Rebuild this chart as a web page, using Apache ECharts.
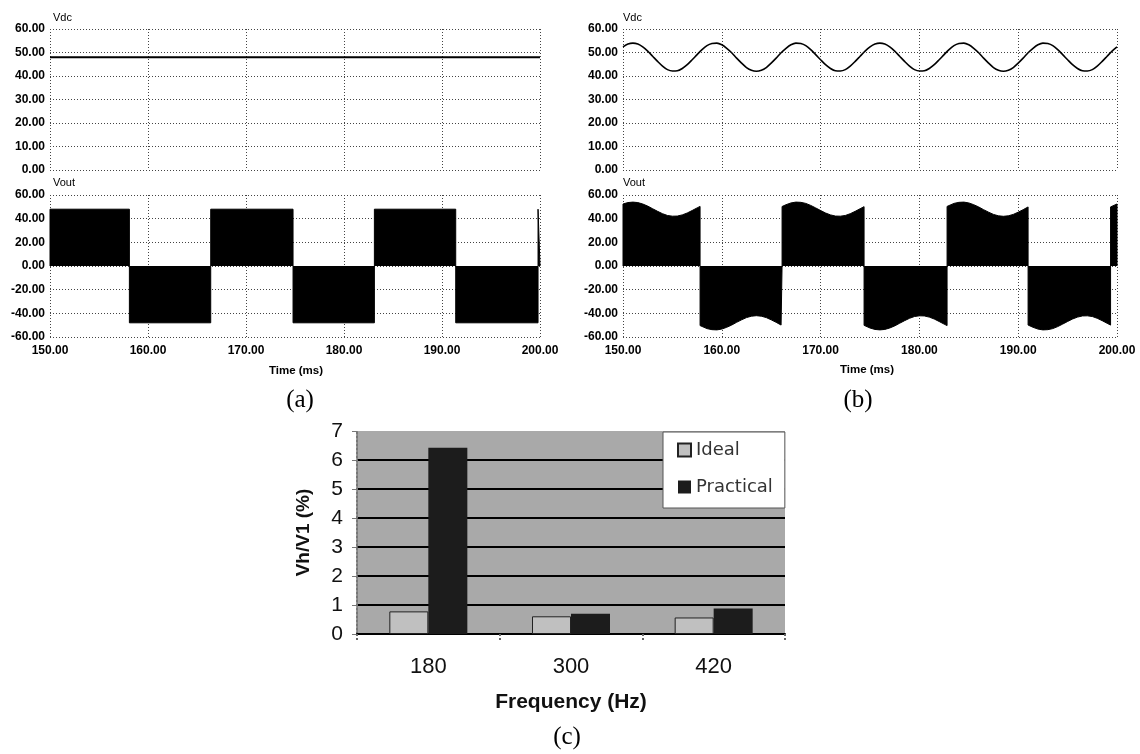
<!DOCTYPE html>
<html>
<head>
<meta charset="utf-8">
<script src="https://cdn.jsdelivr.net/npm/echarts@6/dist/echarts.min.js"></script>
<style>
html,body{margin:0;padding:0;background:#fff;}
#c{width:1140px;height:754px;}
</style>
</head>
<body>
<div id="c"></div>
<script>
// ---------- data ----------
// (a) ideal DC link: constant voltage
const vdcATimes = [150, 200];
const vdcAValues = [48, 48];
// (b) practical DC link: ripple read every 0.5 ms from 150 ms
const vdcBStart = 150;
const vdcBStep = 0.5;
const vdcBValues = [
  52.4, 53.6, 54.0, 53.6, 52.4, 50.6, 48.4, 46.2, 44.2, 42.7,
  42.1, 42.2, 43.2, 44.8, 46.9, 49.1, 51.2, 52.9, 53.8, 54.0,
  53.3, 51.8, 49.9, 47.6, 45.5, 43.6, 42.4, 42.0, 42.4, 43.6,
  45.5, 47.6, 49.9, 51.8, 53.3, 54.0, 53.8, 52.9, 51.2, 49.1,
  46.9, 44.8, 43.2, 42.2, 42.1, 42.7, 44.2, 46.2, 48.4, 50.6,
  52.4, 53.6, 54.0, 53.6, 52.4, 50.6, 48.4, 46.2, 44.2, 42.7,
  42.1, 42.2, 43.2, 44.8, 46.9, 49.1, 51.2, 52.9, 53.8, 54.0,
  53.3, 51.8, 49.9, 47.6, 45.5, 43.6, 42.4, 42.0, 42.4, 43.6,
  45.5, 47.6, 49.9, 51.8, 53.3, 54.0, 53.8, 52.9, 51.2, 49.1,
  46.9, 44.8, 43.2, 42.2, 42.1, 42.7, 44.2, 46.2, 48.4, 50.6,
  52.4
];
// inverter output switching instants (ms) and block polarity
const voutASwitch = [150, 158.1, 166.4, 174.8, 183.1, 191.4, 199.8, 200];
const voutAPolarity = [1, -1, 1, -1, 1, -1, 1];
const voutBSwitch = [150, 157.8, 166.1, 174.4, 182.8, 191.0, 199.35, 200];
const voutBPolarity = [1, -1, 1, -1, 1, -1, 1];

const timeTicks = [150, 160, 170, 180, 190, 200];

// (c) harmonic spectrum
const freqCategories = ['180', '300', '420'];
const idealValues = [0.78, 0.61, 0.57];
const practicalValues = [6.42, 0.70, 0.88];

// ---------- build helpers ----------
const vdcBTimes = vdcBValues.map((_, i) => vdcBStart + i * vdcBStep);
function interp(ts, vs, t) {
  if (t <= ts[0]) return vs[0];
  for (let i = 1; i < ts.length; i++) {
    if (t <= ts[i]) {
      const f = (t - ts[i - 1]) / (ts[i] - ts[i - 1]);
      return vs[i - 1] + f * (vs[i] - vs[i - 1]);
    }
  }
  return vs[vs.length - 1];
}
function buildVout(sw, pol, ts, vs) {
  const out = [];
  for (let b = 0; b < pol.length; b++) {
    const t0 = sw[b], t1 = sw[b + 1], s = pol[b];
    out.push([t0, 0]);
    out.push([t0, s * interp(ts, vs, t0)]);
    for (let i = 0; i < ts.length; i++) {
      if (ts[i] > t0 && ts[i] < t1) out.push([ts[i], s * vs[i]]);
    }
    out.push([t1, s * interp(ts, vs, t1)]);
    out.push([t1, 0]);
  }
  return out;
}
const vdcAData = vdcATimes.map((t, i) => [t, vdcAValues[i]]);
const vdcBData = vdcBTimes.map((t, i) => [t, vdcBValues[i]]);
const voutAData = buildVout(voutASwitch, voutAPolarity, vdcATimes, vdcAValues);
const voutBData = buildVout(voutBSwitch, voutBPolarity, vdcBTimes, vdcBValues);

// ---------- chart ----------
const FONT = 'Liberation Sans, Arial, sans-serif';
const dotted = { type: [1, 2], color: '#444', width: 1 };

function timeAxis(grid, showLabels) {
  return {
    type: 'value', gridIndex: grid, min: timeTicks[0], max: timeTicks[timeTicks.length - 1], interval: 10,
    axisLine: { show: false }, axisTick: { show: false },
    splitLine: { show: true, showMinLine: true, showMaxLine: true, lineStyle: dotted },
    axisLabel: { show: showLabels, formatter: v => v.toFixed(2), fontWeight: 'bold', fontSize: 12,
      color: '#000', margin: 8, fontFamily: FONT }
  };
}
function valAxis(grid, min, max, interval) {
  return {
    type: 'value', gridIndex: grid, min: min, max: max, interval: interval,
    axisLine: { show: false }, axisTick: { show: false },
    splitLine: { show: true, showMinLine: true, showMaxLine: true, lineStyle: dotted },
    axisLabel: { formatter: v => v.toFixed(2), fontWeight: 'bold', fontSize: 12, color: '#000',
      margin: 5, fontFamily: FONT }
  };
}

const chart = echarts.init(document.getElementById('c'), null, { renderer: 'canvas' });
chart.setOption({
  backgroundColor: '#fff',
  animation: false,
  grid: [
    { left: 50, top: 29, width: 490, height: 141 },
    { left: 50, top: 195, width: 490, height: 142 },
    { left: 623, top: 29, width: 494, height: 141 },
    { left: 623, top: 195, width: 494, height: 142 },
    { left: 357, top: 431, width: 428, height: 203, show: true, backgroundColor: '#a9a9a9', borderWidth: 0 }
  ],
  xAxis: [
    timeAxis(0, false), timeAxis(1, true), timeAxis(2, false), timeAxis(3, true),
    {
      type: 'category', gridIndex: 4, data: freqCategories,
      axisLine: { show: true, lineStyle: { color: '#000', width: 2 } },
      axisTick: { show: true, length: 6, lineStyle: { color: '#666', type: 'dotted', width: 2 } },
      axisLabel: { fontSize: 22, color: '#111', margin: 22, fontFamily: FONT },
      name: 'Frequency (Hz)', nameLocation: 'middle', nameGap: 58,
      nameTextStyle: { fontSize: 21, fontWeight: 'bold', color: '#111', fontFamily: FONT }
    }
  ],
  yAxis: [
    valAxis(0, 0, 60, 10), valAxis(1, -60, 60, 20), valAxis(2, 0, 60, 10), valAxis(3, -60, 60, 20),
    {
      type: 'value', gridIndex: 4, min: 0, max: 7, interval: 1,
      axisLine: { show: true, lineStyle: { color: '#777', type: 'dotted', width: 2 } },
      axisTick: { show: true, length: 5, lineStyle: { color: '#777' } },
      splitLine: { show: true, showMinLine: false, showMaxLine: false, lineStyle: { color: '#000', width: 2 } },
      axisLabel: { fontSize: 21, color: '#111', margin: 14, fontFamily: FONT },
      name: 'Vh/V1 (%)', nameLocation: 'middle', nameGap: 44,
      nameTextStyle: { fontSize: 19, fontWeight: 'bold', color: '#111', fontFamily: FONT }
    }
  ],
  legend: {
    data: [{ name: 'Ideal', icon: 'rect' }, { name: 'Practical', icon: 'rect' }],
    orient: 'vertical', left: 663, top: 432,
    itemWidth: 13, itemHeight: 13, itemGap: 19,
    padding: [9, 12, 12, 14],
    backgroundColor: '#fff', borderColor: '#555', borderWidth: 1,
    textStyle: { fontSize: 18, color: '#333', fontFamily: 'DejaVu Sans, sans-serif' }
  },
  series: [
    { name: 'Vdc (a)', type: 'line', xAxisIndex: 0, yAxisIndex: 0, data: vdcAData, showSymbol: false,
      lineStyle: { color: '#000', width: 2 } },
    { name: 'Vout (a)', type: 'line', xAxisIndex: 1, yAxisIndex: 1, data: voutAData, showSymbol: false,
      lineStyle: { color: '#000', width: 1 }, areaStyle: { color: '#000', opacity: 1 } },
    { name: 'Vdc (b)', type: 'line', xAxisIndex: 2, yAxisIndex: 2, data: vdcBData, showSymbol: false,
      smooth: 0.3, lineStyle: { color: '#000', width: 1.6 } },
    { name: 'Vout (b)', type: 'line', xAxisIndex: 3, yAxisIndex: 3, data: voutBData, showSymbol: false,
      lineStyle: { color: '#000', width: 1 }, areaStyle: { color: '#000', opacity: 1 } },
    { name: 'Ideal', type: 'bar', xAxisIndex: 4, yAxisIndex: 4, data: idealValues, barWidth: 39, barGap: '0%',
      itemStyle: { color: '#c0c0c0', borderColor: '#222', borderWidth: 1 } },
    { name: 'Practical', type: 'bar', xAxisIndex: 4, yAxisIndex: 4, data: practicalValues, barWidth: 39, barGap: '0%',
      itemStyle: { color: '#1c1c1c' } }
  ],
  graphic: [
    { type: 'text', left: 53, top: 12, style: { text: 'Vdc', fontSize: 11, fontFamily: FONT, fill: '#000' } },
    { type: 'text', left: 53, top: 177, style: { text: 'Vout', fontSize: 11, fontFamily: FONT, fill: '#000' } },
    { type: 'text', left: 623, top: 12, style: { text: 'Vdc', fontSize: 11, fontFamily: FONT, fill: '#000' } },
    { type: 'text', left: 623, top: 177, style: { text: 'Vout', fontSize: 11, fontFamily: FONT, fill: '#000' } },
    { type: 'text', x: 296, y: 371, style: { text: 'Time (ms)', fontSize: 11.5, fontWeight: 'bold', fontFamily: FONT,
      fill: '#000', align: 'center', verticalAlign: 'middle' } },
    { type: 'text', x: 867, y: 370, style: { text: 'Time (ms)', fontSize: 11.5, fontWeight: 'bold', fontFamily: FONT,
      fill: '#000', align: 'center', verticalAlign: 'middle' } },
    { type: 'text', x: 300, y: 400, style: { text: '(a)', fontSize: 25, fontFamily: 'Liberation Serif, serif',
      fill: '#000', align: 'center', verticalAlign: 'middle' } },
    { type: 'text', x: 858, y: 400, style: { text: '(b)', fontSize: 25, fontFamily: 'Liberation Serif, serif',
      fill: '#000', align: 'center', verticalAlign: 'middle' } },
    { type: 'text', x: 567, y: 737, style: { text: '(c)', fontSize: 25, fontFamily: 'Liberation Serif, serif',
      fill: '#000', align: 'center', verticalAlign: 'middle' } }
  ]
});
</script>
</body>
</html>
